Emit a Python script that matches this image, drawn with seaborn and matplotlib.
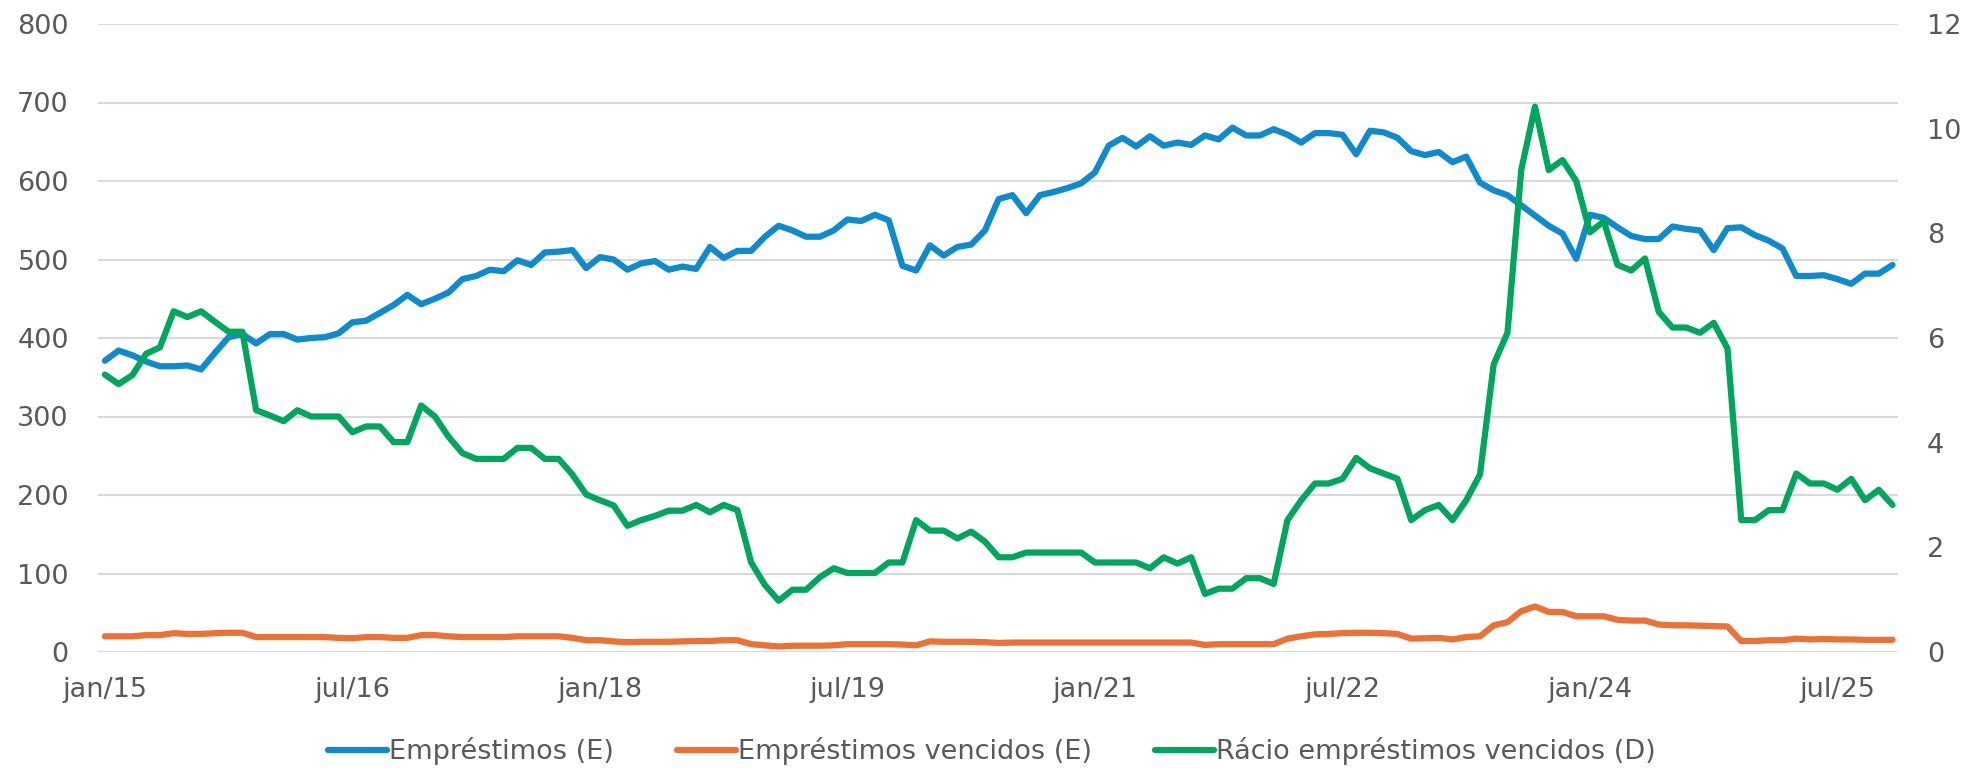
import pandas as pd
import matplotlib.pyplot as plt
import seaborn as sns

# --- dados mensais: jan/15 a nov/25 ---
emprestimos = [371, 384, 378, 370, 364, 364, 365, 360, 381, 401,
               405, 393, 405, 405, 398, 400, 401, 406, 420, 422,
               432, 442, 455, 443, 450, 458, 475, 479, 487, 485,
               499, 493, 509, 510, 512, 489, 503, 500, 487, 495,
               498, 487, 491, 488, 516, 502, 511, 511, 529, 543,
               537, 529, 529, 537, 551, 549, 557, 550, 492, 486,
               518, 505, 516, 519, 537, 577, 582, 559, 582, 586,
               591, 597, 611, 645, 655, 644, 657, 645, 649, 646,
               658, 653, 668, 658, 658, 666, 659, 649, 661, 661,
               659, 634, 664, 662, 655, 638, 633, 637, 624, 631,
               598, 588, 582, 569, 556, 543, 533, 501, 557, 553,
               541, 530, 526, 526, 542, 539, 537, 512, 540, 541,
               531, 524, 514, 479, 479, 480, 475, 469, 482, 482, 493]

vencidos = [20, 20, 20, 21.5, 21.5, 24, 23, 23, 24, 24.5,
            24.5, 19, 19, 19, 19, 19, 19, 18, 17.5, 19,
            19, 18, 18, 21.5, 21.5, 20, 19, 19, 19, 19,
            20, 20, 20, 20, 18, 15, 15, 13.5, 12.5, 13,
            13, 13, 13.5, 14, 14, 15, 15, 10, 8.5, 7,
            8, 8, 8, 8.5, 10, 10, 10, 10, 9.5, 8.5,
            13.5, 13, 13, 13, 12.5, 11.5, 12, 12, 12, 12,
            12, 12, 12, 12, 12, 12, 12, 12, 12, 12,
            9, 10, 10, 10, 10, 10, 17, 20, 22.5, 23,
            24, 24.5, 24.5, 24, 23, 17, 17.5, 18, 16, 19,
            20, 34, 38, 52, 58, 51, 51, 45.5, 45.5, 45.5,
            41, 40, 40, 35, 34, 34, 33.5, 33, 32.5, 14,
            14, 15, 15, 17, 16, 16.5, 16, 16, 15.5, 15.5, 15.5]

racio = [5.30, 5.12, 5.29, 5.70, 5.82, 6.51, 6.40, 6.51, 6.31, 6.12,
         6.12, 4.62, 4.52, 4.41, 4.62, 4.50, 4.50, 4.50, 4.20, 4.31,
         4.31, 4.01, 4.01, 4.71, 4.50, 4.11, 3.80, 3.69, 3.69, 3.69,
         3.90, 3.90, 3.69, 3.69, 3.39, 3.01, 2.90, 2.80, 2.41, 2.52,
         2.60, 2.70, 2.70, 2.81, 2.67, 2.81, 2.71, 1.71, 1.28, 0.98,
         1.19, 1.19, 1.43, 1.60, 1.51, 1.51, 1.51, 1.71, 1.71, 2.52,
         2.32, 2.32, 2.17, 2.30, 2.11, 1.81, 1.81, 1.90, 1.90, 1.90,
         1.90, 1.90, 1.71, 1.71, 1.71, 1.71, 1.60, 1.81, 1.69, 1.81,
         1.11, 1.21, 1.21, 1.41, 1.41, 1.30, 2.52, 2.90, 3.22, 3.22,
         3.31, 3.71, 3.51, 3.41, 3.31, 2.52, 2.71, 2.81, 2.52, 2.90,
         3.39, 5.50, 6.10, 9.21, 10.42, 9.21, 9.40, 9.00, 8.02, 8.23,
         7.40, 7.29, 7.52, 6.50, 6.20, 6.20, 6.10, 6.29, 5.80, 2.52,
         2.52, 2.71, 2.71, 3.41, 3.22, 3.22, 3.10, 3.31, 2.90, 3.10, 2.81]

tick_pos = [0, 18, 36, 54, 72, 90, 108, 126]
tick_labels = ['jan/15', 'jul/16', 'jan/18', 'jul/19', 'jan/21', 'jul/22', 'jan/24', 'jul/25']

df = pd.DataFrame({
    'mes': range(len(emprestimos)),
    'emprestimos': emprestimos,
    'vencidos': vencidos,
    'racio': racio,
})

# --- estilo ---
sns.set_style('white')
plt.rcParams['font.family'] = ['DejaVu Sans']
cinza = '#595959'
fs = 19.5
lw = 4.5

fig = plt.figure(figsize=(19.66, 7.68), dpi=100)
ax = fig.add_axes([98 / 1966, 1 - 652 / 768, 1800 / 1966, 628 / 768])
ax2 = ax.twinx()

sns.lineplot(data=df, x='mes', y='emprestimos', ax=ax, color='#0E8ACD', lw=lw,
             label='Empréstimos (E)')
sns.lineplot(data=df, x='mes', y='vencidos', ax=ax, color='#EB7134', lw=lw,
             label='Empréstimos vencidos (E)')
sns.lineplot(data=df, x='mes', y='racio', ax=ax2, color='#00A65D', lw=lw,
             label='Rácio empréstimos vencidos (D)')

for a in (ax, ax2):
    if a.get_legend() is not None:
        a.get_legend().remove()
    a.set_xlabel('')
    a.set_ylabel('')
    for s in a.spines.values():
        s.set_visible(False)
    a.tick_params(length=0, labelsize=fs, labelcolor=cinza, pad=21)

ax.tick_params(axis='x', pad=18)
ax.set_xlim(-0.5, 130.4)
ax.set_ylim(0, 800)
ax.set_yticks(range(0, 801, 100))
ax2.set_ylim(0, 12)
ax2.set_yticks(range(0, 13, 2))
ax.set_xticks(tick_pos)
ax.set_xticklabels(tick_labels)
ax.yaxis.grid(True, color='#d9d9d9', lw=1.5)
ax.xaxis.grid(False)
ax2.grid(False)
ax.set_axisbelow(True)

# legenda comum em baixo
h1, l1 = ax.get_legend_handles_labels()
h2, l2 = ax2.get_legend_handles_labels()
fig.legend(h1 + h2, l1 + l2, loc='center', bbox_to_anchor=(992 / 1966, 1 - 751 / 768),
           ncol=3, frameon=False, fontsize=fs, labelcolor=cinza,
           handlelength=2.15, handletextpad=0.08, columnspacing=2.35)

fig.savefig('out.png', dpi=100)
